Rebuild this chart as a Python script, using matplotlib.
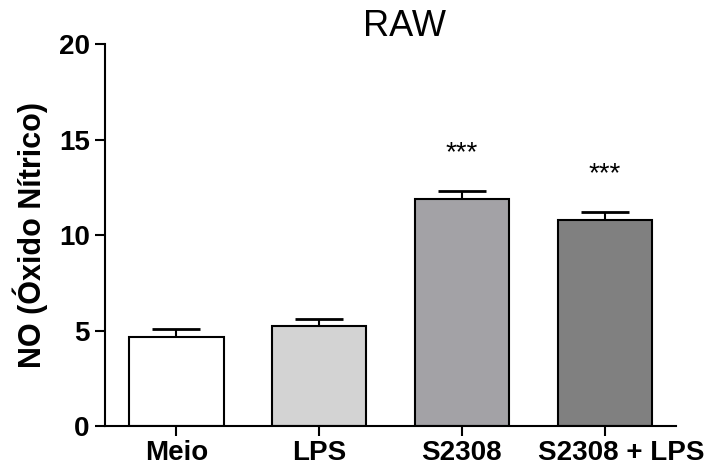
import matplotlib.pyplot as plt
import matplotlib.transforms as mtransforms
import numpy as np

plt.rcParams['font.family'] = ['Liberation Sans', 'DejaVu Sans']

groups = ["Meio", "LPS", "S2308", "S2308 + LPS"]
means = [4.68, 5.26, 11.88, 10.78]
sems = [0.39, 0.35, 0.42, 0.44]
signif = ["", "", "***", "***"]
colors = ["#ffffff", "#d3d3d3", "#a3a2a6", "#808080"]

fig = plt.figure(figsize=(7.05, 4.67), dpi=100)
ax = fig.add_axes([0.149, 0.088, 0.81, 0.817])

x = np.arange(len(groups))
ax.bar(x, means, width=0.66, color=colors, edgecolor="black", linewidth=1.5, zorder=2)
ax.errorbar(x, means, yerr=[np.zeros(len(sems)), sems], fmt="none", ecolor="black",
            elinewidth=1.5, capsize=17, capthick=2, zorder=1)

for xi, m, s, lab in zip(x, means, sems, signif):
    if lab:
        ax.text(xi, m + s + 2.0, lab, ha="center", va="center", fontsize=20)

ax.set_xlim(-0.5, 3.5)
ax.set_ylim(0, 20)
ax.set_yticks([0, 5, 10, 15, 20])
ax.set_xticks(x)
ax.set_xticklabels(groups)

for side in ["top", "right"]:
    ax.spines[side].set_visible(False)
for side in ["left", "bottom"]:
    ax.spines[side].set_linewidth(1.5)

ax.tick_params(axis="both", width=1.5, length=7, labelsize=20, direction="out")
ax.tick_params(axis="x", pad=3)
ax.tick_params(axis="y", pad=4)
for lbl in ax.get_xticklabels() + ax.get_yticklabels():
    lbl.set_fontweight("bold")

# long last label sits a little to the right of its tick
last = ax.get_xticklabels()[-1]
last.set_transform(last.get_transform() +
                   mtransforms.ScaledTranslation(12 / 72, 0, fig.dpi_scale_trans))

ax.set_ylabel("NO (Óxido Nítrico)", fontsize=22, fontweight="bold", labelpad=8)
ax.text(0.525, 1.0, "RAW", transform=ax.transAxes, ha="center", va="bottom", fontsize=26)

fig.savefig("out.png", dpi=100)
